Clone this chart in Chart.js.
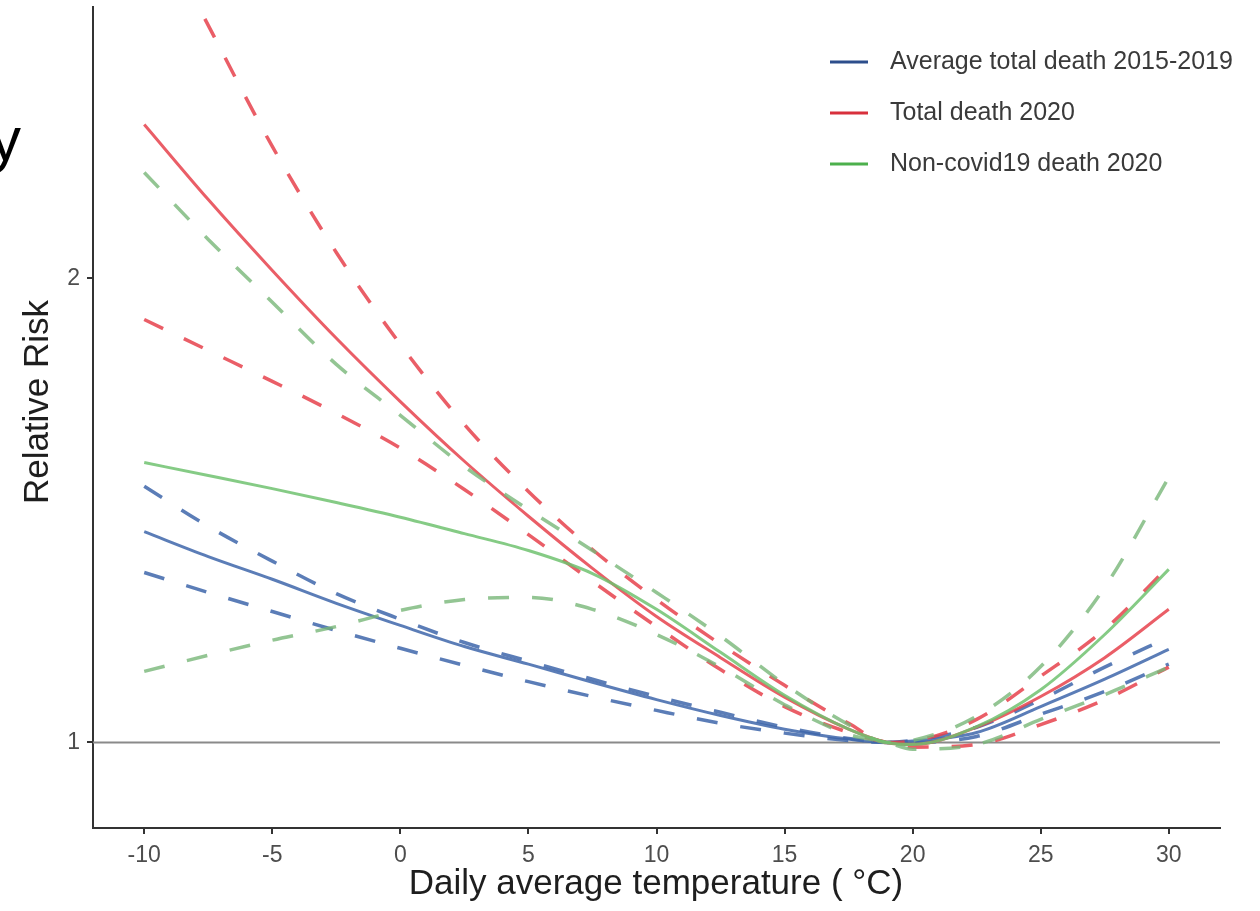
<!DOCTYPE html>
<html>
<head>
<meta charset="utf-8">
<script src="https://cdn.jsdelivr.net/npm/chart.js@4.4.1/dist/chart.umd.min.js"></script>
<style>
  html, body { margin: 0; padding: 0; background: #fff; }
  #wrap { width: 1260px; height: 911px; }
</style>
</head>
<body>
<div id="wrap"><canvas id="chart"></canvas></div>
<script>
// Temperatura diaria (°C) donde se leen las curvas
const temps = [-10, -7.5, -5, -2.5, 0, 2.5, 5, 7.5, 10, 12.5, 15, 17.5, 19, 20, 22.5, 25, 27.5, 30];

// Riesgo relativo, media 2015-2019
const blueRR  = [1.370, 1.320, 1.276, 1.231, 1.191, 1.154, 1.124, 1.094, 1.066, 1.041, 1.020, 1.005, 1.0, 1.002, 1.015, 1.055, 1.099, 1.149];
const blueHi  = [1.466, 1.381, 1.311, 1.249, 1.202, 1.161, 1.129, 1.099, 1.071, 1.046, 1.023, 1.006, 1.0, 1.003, 1.023, 1.066, 1.119, 1.170];
const blueLo  = [1.289, 1.251, 1.216, 1.182, 1.151, 1.122, 1.095, 1.071, 1.049, 1.029, 1.014, 1.003, 1.0, 1.0, 1.009, 1.043, 1.079, 1.124];

// Total 2020
const redRR   = [2.517, 2.250, 2.024, 1.829, 1.664, 1.522, 1.402, 1.297, 1.207, 1.135, 1.070, 1.020, 1.0, 0.997, 1.023, 1.071, 1.135, 1.220];
const redHi   = [3.512, 2.919, 2.436, 2.079, 1.812, 1.608, 1.455, 1.334, 1.238, 1.158, 1.089, 1.029, 1.0, 1.002, 1.035, 1.104, 1.184, 1.301];
const redLo   = [1.881, 1.796, 1.715, 1.635, 1.552, 1.459, 1.364, 1.272, 1.189, 1.115, 1.055, 1.015, 1.0, 0.993, 0.997, 1.027, 1.066, 1.119];

// No covid19 2020
const greenRR = [1.519, 1.490, 1.461, 1.431, 1.400, 1.366, 1.332, 1.287, 1.220, 1.144, 1.073, 1.020, 1.0, 0.997, 1.024, 1.082, 1.175, 1.295];
const greenHi = [2.343, 2.120, 1.930, 1.759, 1.630, 1.510, 1.416, 1.332, 1.251, 1.172, 1.091, 1.027, 1.0, 1.003, 1.040, 1.120, 1.261, 1.486];
const greenLo = [1.112, 1.139, 1.165, 1.189, 1.218, 1.238, 1.242, 1.220, 1.175, 1.119, 1.058, 1.012, 1.0, 0.990, 0.997, 1.035, 1.074, 1.119];

const xTicks = [-10, -5, 0, 5, 10, 15, 20, 25, 30];
const yTicks = [1, 2];

const FONT = "'Liberation Sans', Arial, sans-serif";
const BLUE = 'rgba(62, 102, 170, 0.85)';
const RED = 'rgba(230, 66, 76, 0.85)';
const GREEN = 'rgba(112, 194, 112, 0.85)';
const GREEN_DASH = 'rgba(120, 182, 120, 0.8)';

const pts = vals => temps.map((t, i) => ({ x: t, y: vals[i] }));

function curve(vals, color, dashed) {
    return {
        data: pts(vals),
        borderColor: color,
        borderWidth: dashed ? 3.5 : 3,
        borderDash: dashed ? [21, 23] : [],
        pointRadius: 0,
        cubicInterpolationMode: 'monotone',
        fill: false
    };
}

// Leyenda dibujada a mano, arriba a la derecha
const legendItems = [
    { text: 'Average total death 2015-2019', color: '#2d4e8c' },
    { text: 'Total death 2020', color: '#d8303c' },
    { text: 'Non-covid19 death 2020', color: '#4cb04c' }
];

const overlay = {
    id: 'overlay',
    afterDraw(chart) {
        const ctx = chart.ctx;
        ctx.save();
        legendItems.forEach((it, i) => {
            const y = 62 + i * 51;
            ctx.strokeStyle = it.color;
            ctx.lineWidth = 3;
            ctx.beginPath();
            ctx.moveTo(830, y);
            ctx.lineTo(868, y);
            ctx.stroke();
            ctx.fillStyle = '#3a3a3a';
            ctx.font = '25px ' + FONT;
            ctx.textBaseline = 'middle';
            ctx.textAlign = 'left';
            ctx.fillText(it.text, 890, y);
        });

        // títulos de los ejes
        ctx.fillStyle = '#1e1e1e';
        ctx.font = '35px ' + FONT;
        ctx.textAlign = 'center';
        ctx.textBaseline = 'middle';
        ctx.fillText('Daily average temperature ( °C)', 656, 884);
        ctx.save();
        ctx.translate(38, 402);
        ctx.rotate(-Math.PI / 2);
        ctx.fillText('Relative Risk', 0, 0);
        ctx.restore();

        // resto del título recortado a la izquierda
        ctx.fillStyle = '#000';
        ctx.font = '62px ' + FONT;
        ctx.textAlign = 'left';
        ctx.textBaseline = 'alphabetic';
        ctx.fillText('y', -10, 160);
        ctx.restore();
    }
};

new Chart(document.getElementById('chart'), {
    type: 'line',
    data: {
        datasets: [
            curve(greenRR, GREEN, false),
            curve(greenHi, GREEN_DASH, true),
            curve(greenLo, GREEN_DASH, true),
            curve(redRR, RED, false),
            curve(redHi, RED, true),
            curve(redLo, RED, true),
            curve(blueRR, BLUE, false),
            curve(blueHi, BLUE, true),
            curve(blueLo, BLUE, true),
            {
                data: [{ x: -12, y: 1 }, { x: 32, y: 1 }],
                borderColor: '#8a8a8a',
                borderWidth: 2,
                pointRadius: 0
            }
        ]
    },
    options: {
        responsive: true,
        maintainAspectRatio: false,
        animation: false,
        layout: { padding: { top: 7, right: 40, left: 0, bottom: 0 } },
        plugins: { legend: { display: false }, tooltip: { enabled: false } },
        scales: {
            x: {
                type: 'linear',
                min: -12,
                max: 32,
                afterBuildTicks: s => { s.ticks = xTicks.map(v => ({ value: v })); },
                afterFit: s => { s.height = 83; s.paddingLeft = 0; s.paddingRight = 0; },
                grid: { drawOnChartArea: false, drawTicks: true, tickLength: 6, color: '#333', lineWidth: 2 },
                border: { color: '#333', width: 2 },
                ticks: { font: { family: FONT, size: 23 }, color: '#4d4d4d', padding: 8, maxRotation: 0 }
            },
            y: {
                type: 'logarithmic',
                min: 0.88,
                max: 3.0,
                afterBuildTicks: s => { s.ticks = yTicks.map(v => ({ value: v })); },
                afterFit: s => { s.width = 93; s.paddingTop = 0; s.paddingBottom = 0; },
                grid: { drawOnChartArea: false, drawTicks: true, tickLength: 6, color: '#333', lineWidth: 2 },
                border: { color: '#333', width: 2 },
                ticks: { font: { family: FONT, size: 23 }, color: '#4d4d4d', padding: 7, callback: v => String(v) }
            }
        }
    },
    plugins: [overlay]
});
</script>
</body>
</html>
